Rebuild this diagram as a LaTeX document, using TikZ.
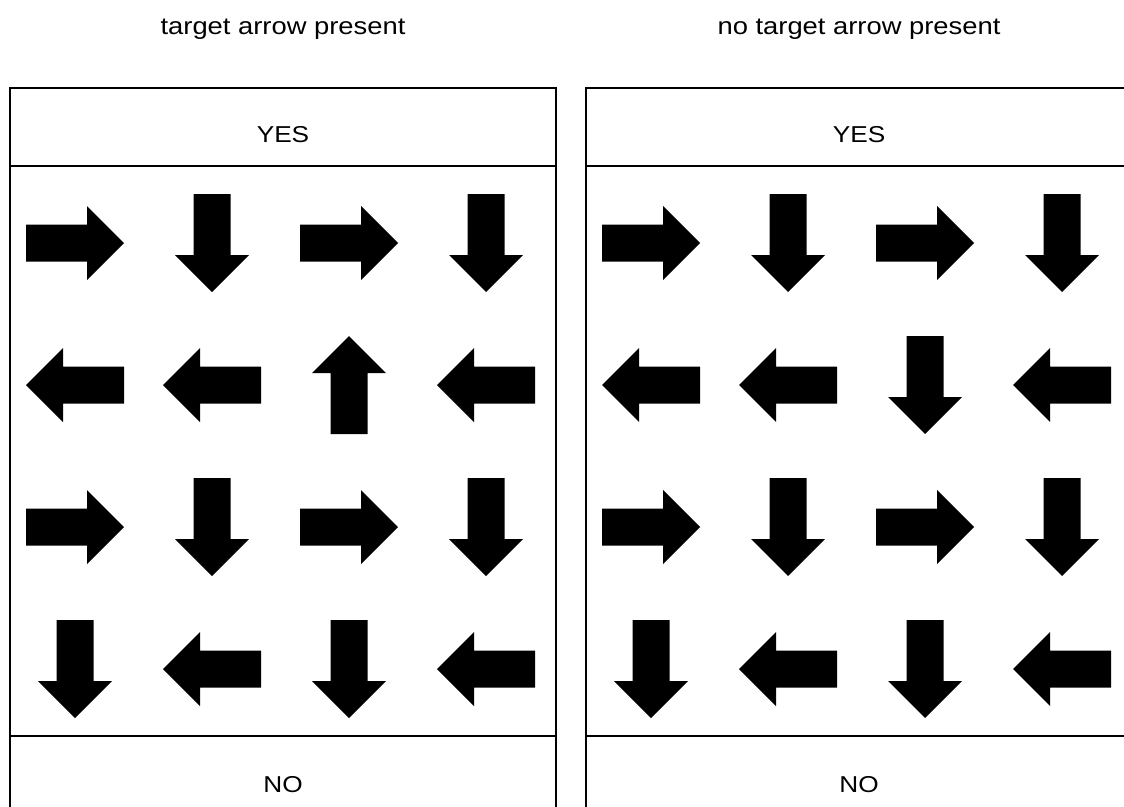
\documentclass[tikz,border=0pt]{standalone}
\usepackage{fontspec}
\setmainfont{Liberation Sans}
\usetikzlibrary{positioning}

\begin{document}
\begin{tikzpicture}[
                x=1pt, y=-1pt,
                panel/.style={draw, line width=2.6pt},
                caption/.style={anchor=base, font=\fontsize{24}{28}\selectfont},
                answer/.style={anchor=base, font=\fontsize{23}{27}\selectfont},
                arrowshape/.pic={
                    \fill[black] (-49,-18.5) -- (12,-18.5) -- (12,-37) -- (49,0)
                        -- (12,37) -- (12,18.5) -- (-49,18.5) -- cycle;
                }
            ]
                \useasboundingbox (0,0) rectangle (1124,806);
                \clip (0,0) rectangle (1124,806);
                % two panels, the second one shifted by 576
                \foreach \dx/\odd in {0/90, 576/-90} {
                    \draw[panel] (10+\dx,88) rectangle (556+\dx,830);
                    \draw[panel] (10+\dx,166) -- (556+\dx,166);
                    \draw[panel] (10+\dx,736) -- (556+\dx,736);
                    \foreach \y/\dirs in {243/{0,-90,0,-90}, 385/{180,180,\odd,180},
                            527/{0,-90,0,-90}, 669/{-90,180,-90,180}}
                        \foreach \d [count=\c from 0] in \dirs
                            \pic[rotate=\d] at ({75+137*\c+\dx},\y) {arrowshape};
                }
                \node[caption] (present) at (283,34) {\scalebox{1.14}[1]{target arrow present}};
                \node[caption] (absent) at (859,34) {\scalebox{1.14}[1]{no target arrow present}};
                \node[answer] (yesleft) at (283,142) {\scalebox{1.14}[1]{YES}};
                \node[answer] (yesright) at (859,142) {\scalebox{1.14}[1]{YES}};
                \node[answer] (noleft) at (283,792) {\scalebox{1.14}[1]{NO}};
                \node[answer] (noright) at (859,792) {\scalebox{1.14}[1]{NO}};
            \end{tikzpicture}
\end{document}
